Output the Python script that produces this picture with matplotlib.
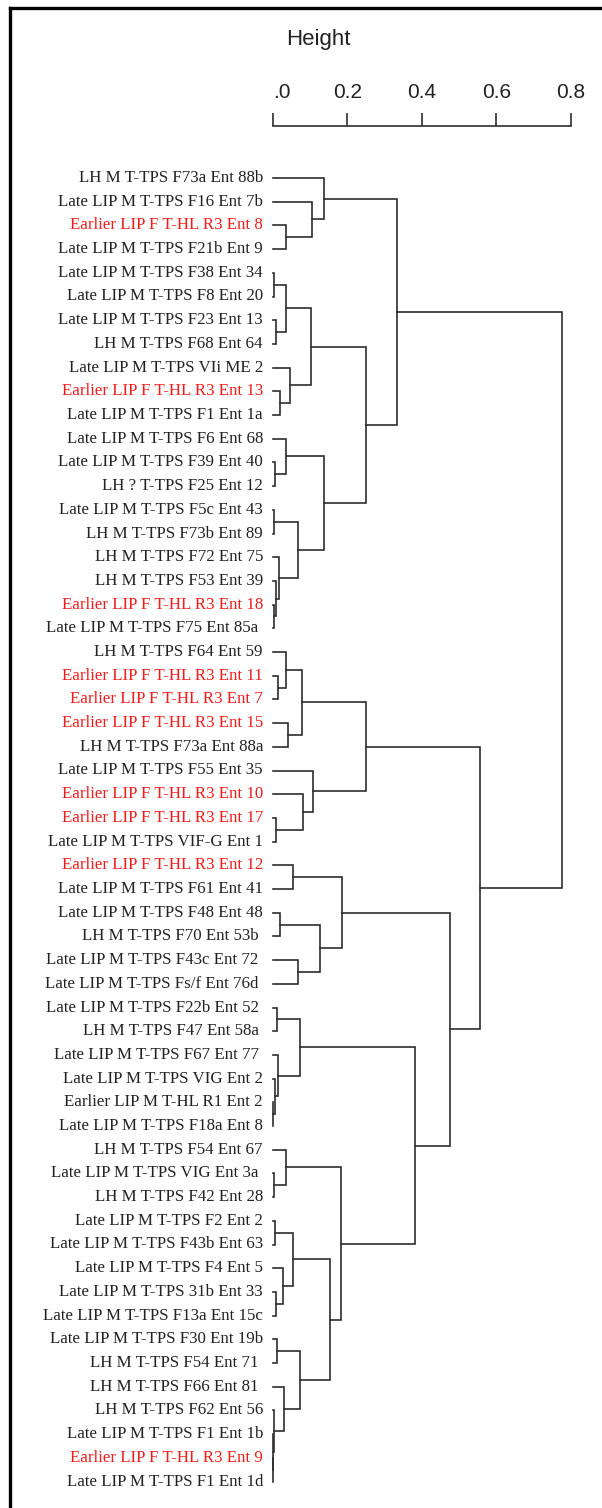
import numpy as np
import matplotlib
matplotlib.use('Agg')
import matplotlib.pyplot as plt
from matplotlib.lines import Line2D

plt.rcParams['font.family'] = 'Liberation Sans'

# --- data: leaf labels (top to bottom), which ones are the red group ---
labels = [
    'LH M T-TPS F73a Ent 88b', 'Late LIP M T-TPS F16 Ent 7b', 'Earlier LIP F T-HL R3 Ent 8',
    'Late LIP M T-TPS F21b Ent 9', 'Late LIP M T-TPS F38 Ent 34', 'Late LIP M T-TPS F8 Ent 20',
    'Late LIP M T-TPS F23 Ent 13', 'LH M T-TPS F68 Ent 64', 'Late LIP M T-TPS VIi ME 2',
    'Earlier LIP F T-HL R3 Ent 13', 'Late LIP M T-TPS F1 Ent 1a', 'Late LIP M T-TPS F6 Ent 68',
    'Late LIP M T-TPS F39 Ent 40', 'LH ? T-TPS F25 Ent 12', 'Late LIP M T-TPS F5c Ent 43',
    'LH M T-TPS F73b Ent 89', 'LH M T-TPS F72 Ent 75', 'LH M T-TPS F53 Ent 39',
    'Earlier LIP F T-HL R3 Ent 18', 'Late LIP M T-TPS F75 Ent 85a ', 'LH M T-TPS F64 Ent 59',
    'Earlier LIP F T-HL R3 Ent 11', 'Earlier LIP F T-HL R3 Ent 7', 'Earlier LIP F T-HL R3 Ent 15',
    'LH M T-TPS F73a Ent 88a', 'Late LIP M T-TPS F55 Ent 35', 'Earlier LIP F T-HL R3 Ent 10',
    'Earlier LIP F T-HL R3 Ent 17', 'Late LIP M T-TPS VIF-G Ent 1', 'Earlier LIP F T-HL R3 Ent 12',
    'Late LIP M T-TPS F61 Ent 41', 'Late LIP M T-TPS F48 Ent 48', 'LH M T-TPS F70 Ent 53b ',
    'Late LIP M T-TPS F43c Ent 72 ', 'Late LIP M T-TPS Fs/f Ent 76d ', 'Late LIP M T-TPS F22b Ent 52 ',
    'LH M T-TPS F47 Ent 58a ', 'Late LIP M T-TPS F67 Ent 77 ', 'Late LIP M T-TPS VIG Ent 2',
    'Earlier LIP M T-HL R1 Ent 2', 'Late LIP M T-TPS F18a Ent 8', 'LH M T-TPS F54 Ent 67',
    'Late LIP M T-TPS VIG Ent 3a ', 'LH M T-TPS F42 Ent 28', 'Late LIP M T-TPS F2 Ent 2',
    'Late LIP M T-TPS F43b Ent 63', 'Late LIP M T-TPS F4 Ent 5', 'Late LIP M T-TPS 31b Ent 33',
    'Late LIP M T-TPS F13a Ent 15c', 'Late LIP M T-TPS F30 Ent 19b', 'LH M T-TPS F54 Ent 71 ',
    'LH M T-TPS F66 Ent 81 ', 'LH M T-TPS F62 Ent 56', 'Late LIP M T-TPS F1 Ent 1b',
    'Earlier LIP F T-HL R3 Ent 9', 'Late LIP M T-TPS F1 Ent 1d',
]
red_leaves = [2, 9, 18, 21, 22, 23, 26, 27, 29, 54]

# merges: node n+k joins merge_a[k] and merge_b[k] at merge_h[k]
merge_a = [2, 1, 0, 4, 6, 59, 9, 8, 61, 12, 11, 14, 18, 17, 16, 67, 66, 64, 58,
           21, 20, 23, 76, 27, 26, 25, 78,
           29, 31, 33, 84, 83,
           35, 39, 38, 37, 88, 42, 41, 44, 47, 46, 95, 49, 54, 53, 52, 51, 99, 98, 94, 92,
           87, 82, 74]
merge_b = [3, 56, 57, 5, 7, 60, 10, 62, 63, 13, 65, 15, 19, 68, 69, 70, 71, 72, 73,
           22, 75, 24, 77, 28, 79, 80, 81,
           30, 32, 34, 85, 86,
           36, 40, 89, 90, 91, 43, 93, 45, 48, 96, 97, 50, 55, 100, 101, 102, 103, 104, 105, 106,
           107, 108, 109]
merge_h = [0.036, 0.106, 0.138, 0.004, 0.008, 0.034, 0.020, 0.047, 0.102, 0.005, 0.035,
           0.002, 0.002, 0.008, 0.017, 0.068, 0.136, 0.251, 0.333,
           0.014, 0.034, 0.039, 0.077, 0.008, 0.080, 0.108, 0.249,
           0.055, 0.018, 0.067, 0.125, 0.185,
           0.010, 0.001, 0.005, 0.014, 0.072, 0.003, 0.034, 0.005, 0.007, 0.026, 0.055,
           0.010, 0.0005, 0.001, 0.003, 0.030, 0.073, 0.153, 0.182, 0.383,
           0.477, 0.556, 0.777]

scale_ticks = [0.0, 0.2, 0.4, 0.6, 0.8]

LINE = '#2e2e2e'
TXT = '#222222'
RED = '#f21c1c'

W, H = 602, 1508
fig = plt.figure(figsize=(W / 100, H / 100), dpi=100, facecolor='white')

# pixel mapping: h=0 at x=273, 372 px per unit; leaf i at y=178+23.7*i
X0, XS = 273.0, 372.0
Y0, YS = 178.0, 23.7

ax = fig.add_axes([0, 0, 1, 1])
ax.set_xlim(-X0 / XS, (W - X0) / XS)
ax.set_ylim((H - Y0) / YS, -Y0 / YS)
ax.axis('off')

n = len(labels)
ypos = {i: float(i) for i in range(n)}
hpos = {i: 0.0 for i in range(n)}
for k, (a, b, h) in enumerate(zip(merge_a, merge_b, merge_h)):
    ax.plot([hpos[a], h, h, hpos[b]], [ypos[a], ypos[a], ypos[b], ypos[b]],
            color=LINE, lw=1.2, solid_joinstyle='miter')
    ypos[n + k] = (ypos[a] + ypos[b]) / 2
    hpos[n + k] = h

for i, lab in enumerate(labels):
    ax.text(-10 / XS, i, lab, ha='right', va='center', fontsize=12.2,
            family='Liberation Serif', color=RED if i in red_leaves else TXT)

ax.text((318 - X0) / XS, (39 - Y0) / YS, 'Height', ha='center', va='center',
        fontsize=16, color=TXT)

# scale bar at top
ax_s = fig.add_axes([0, 1 - 140 / H, 1, 14 / H])
ax_s.set_xlim(ax.get_xlim())
ax_s.patch.set_visible(False)
for side in ['left', 'right', 'bottom']:
    ax_s.spines[side].set_visible(False)
ax_s.spines['top'].set_bounds(scale_ticks[0], scale_ticks[-1])
ax_s.spines['top'].set_color(LINE)
ax_s.spines['top'].set_linewidth(1.2)
ax_s.set_yticks([])
ax_s.xaxis.tick_top()
ax_s.set_xticks(scale_ticks)
ax_s.set_xticklabels([''] + [f'{t:.1f}' for t in scale_ticks[1:]])
ax_s.tick_params(axis='x', direction='out', length=9.4, width=1.2, color=LINE,
                 pad=8, labelsize=15, labelcolor=TXT)
trans, _, _ = ax_s.get_xaxis_text2_transform(8 + 9.4)
ax_s.text(scale_ticks[0], 1, '.0', transform=trans, ha='left', va='bottom',
          fontsize=15, color=TXT)

# frame (only top and left edges show in the crop)
fig.add_artist(Line2D([10 / W, 10 / W], [0, 1 - 8 / H], color='black', lw=2.4,
                      transform=fig.transFigure))
fig.add_artist(Line2D([10 / W, 1], [1 - 8 / H, 1 - 8 / H], color='black', lw=2.4,
                      transform=fig.transFigure))

fig.savefig('out.png', dpi=100, facecolor='white')
